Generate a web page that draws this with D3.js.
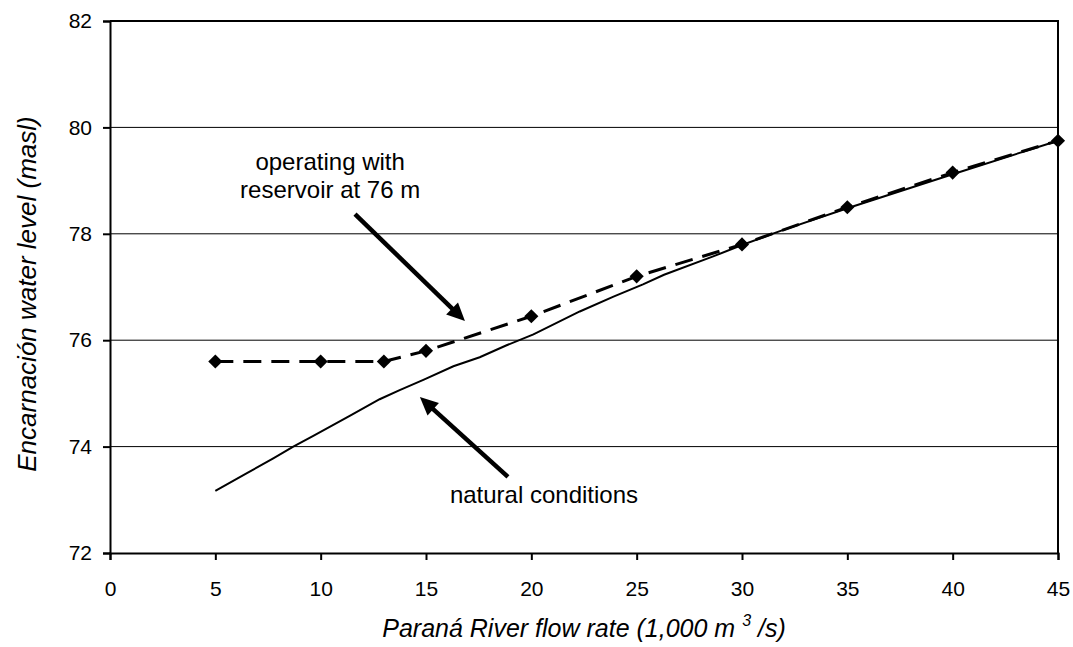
<!DOCTYPE html>
<html>
<head>
<meta charset="utf-8">
<script src="https://cdn.jsdelivr.net/npm/d3@7"></script>
<style>
  body { margin: 0; background: #fff; }
  svg text { font-family: Arial, "Liberation Sans", sans-serif; fill: #000; }
</style>
</head>
<body>
<div id="chart"></div>
<script>
// natural conditions (solid line)
const naturalFlow = [5, 6.5, 7.75, 8.7, 9.65, 11.4, 12.8, 13.75, 14.9, 16.3, 17.55, 18.8, 20.1, 22.3, 23.9, 25.3, 26.3, 28.6, 30, 31.8, 35, 40, 45];
const naturalLevel = [73.17, 73.5, 73.78, 74.0, 74.2, 74.58, 74.89, 75.06, 75.26, 75.51, 75.68, 75.9, 76.11, 76.54, 76.82, 77.05, 77.23, 77.57, 77.79, 78.05, 78.48, 79.12, 79.75];

// operating with reservoir at 76 m (dashed line + diamonds)
const reservoirFlow = [5, 10, 13, 15, 20, 25, 30, 35, 40, 45];
const reservoirLevel = [75.6, 75.6, 75.6, 75.8, 76.45, 77.2, 77.8, 78.5, 79.15, 79.75];

const xTicks = [0, 5, 10, 15, 20, 25, 30, 35, 40, 45];
const yTicks = [72, 74, 76, 78, 80, 82];

// annotation text and arrows, in data units
const labels = [
  { lines: ["operating with", "reservoir at 76 m"], x: 10.45, y: 79.2 },
  { lines: ["natural conditions"], x: 20.6, y: 72.94 }
];
const arrows = [
  { x1: 11.63, y1: 78.37, x2: 16.85, y2: 76.36 },
  { x1: 18.89, y1: 73.43, x2: 14.71, y2: 74.93 }
];

document.addEventListener("DOMContentLoaded", function () {
    const width = 1073, height = 647;
    const margin = { top: 21, right: 15, bottom: 94, left: 110 };

    const svg = d3.select("#chart")
        .append("svg")
        .attr("width", width)
        .attr("height", height);

    const x = d3.scaleLinear().domain([0, 45]).range([margin.left, width - margin.right]);
    const y = d3.scaleLinear().domain([72, 82]).range([height - margin.bottom, margin.top]);

    // horizontal gridlines
    svg.append("g")
        .selectAll("line")
        .data(yTicks.slice(1, -1))
        .enter()
        .append("line")
        .attr("x1", x(0))
        .attr("x2", x(45))
        .attr("y1", d => y(d))
        .attr("y2", d => y(d))
        .attr("stroke", "#000")
        .attr("stroke-width", 1);

    const natural = naturalFlow.map((f, i) => [f, naturalLevel[i]]);
    const reservoir = reservoirFlow.map((f, i) => [f, reservoirLevel[i]]);

    const line = d3.line().x(d => x(d[0])).y(d => y(d[1]));

    svg.append("path")
        .datum(natural)
        .attr("d", line)
        .attr("fill", "none")
        .attr("stroke", "#000")
        .attr("stroke-width", 2);

    svg.append("path")
        .datum(reservoir)
        .attr("d", line)
        .attr("fill", "none")
        .attr("stroke", "#000")
        .attr("stroke-width", 3)
        .attr("stroke-dasharray", "18,10");

    // diamond markers
    svg.append("g")
        .selectAll("path")
        .data(reservoir)
        .enter()
        .append("path")
        .attr("d", d3.symbol().type(d3.symbolSquare).size(100))
        .attr("transform", d => `translate(${x(d[0])},${y(d[1])}) rotate(45)`)
        .attr("fill", "#000");

    // axes
    const xAxis = svg.append("g")
        .attr("transform", `translate(0,${y(72)})`)
        .call(d3.axisBottom(x).tickValues(xTicks).tickSize(7).tickPadding(21).tickFormat(d3.format("d")));

    const yAxis = svg.append("g")
        .attr("transform", `translate(${x(0)},0)`)
        .call(d3.axisLeft(y).tickValues(yTicks).tickSize(7).tickPadding(11).tickFormat(d3.format("d")));

    [xAxis, yAxis].forEach(g => {
        g.select(".domain").attr("stroke-width", 2);
        g.selectAll(".tick line").attr("stroke-width", 2);
        g.selectAll(".tick text").style("font-size", "21px").attr("font-family", null);
        g.attr("font-family", null).attr("font-size", null);
    });

    // top and right frame
    svg.append("path")
        .attr("d", `M${x(0)},${y(82)}H${x(45)}V${y(72)}`)
        .attr("fill", "none")
        .attr("stroke", "#000")
        .attr("stroke-width", 2);

    // axis titles
    svg.append("text")
        .attr("transform", `translate(36,${(y(72) + y(82)) / 2 + 7}) rotate(-90)`)
        .attr("text-anchor", "middle")
        .style("font-size", "26px")
        .style("font-style", "italic")
        .text("Encarnación water level (masl)");

    const xTitle = svg.append("text")
        .attr("x", (x(0) + x(45)) / 2)
        .attr("y", 637)
        .attr("text-anchor", "middle")
        .style("font-size", "25px")
        .style("font-style", "italic");
    xTitle.append("tspan").text("Paraná River flow rate (1,000 m ");
    xTitle.append("tspan").attr("dy", -11).style("font-size", "16px").text("3");
    xTitle.append("tspan").attr("dy", 11).text(" /s)");

    // annotations
    labels.forEach(l => {
        const t = svg.append("text")
            .attr("text-anchor", "middle")
            .style("font-size", "24px");
        l.lines.forEach((s, i) => {
            t.append("tspan")
                .attr("x", x(l.x))
                .attr("y", y(l.y) + i * 28)
                .text(s);
        });
    });

    arrows.forEach(a => {
        const x1 = x(a.x1), y1 = y(a.y1), x2 = x(a.x2), y2 = y(a.y2);
        const len = Math.hypot(x2 - x1, y2 - y1);
        const ux = (x2 - x1) / len, uy = (y2 - y1) / len;
        const headLen = 18, headW = 8.5;
        const bx = x2 - ux * headLen, by = y2 - uy * headLen;

        svg.append("line")
            .attr("x1", x1).attr("y1", y1)
            .attr("x2", bx + ux * 2).attr("y2", by + uy * 2)
            .attr("stroke", "#000")
            .attr("stroke-width", 4.5);

        svg.append("path")
            .attr("d", `M${x2},${y2}L${bx - uy * headW},${by + ux * headW}L${bx + uy * headW},${by - ux * headW}Z`)
            .attr("fill", "#000");
    });
});
</script>
</body>
</html>
